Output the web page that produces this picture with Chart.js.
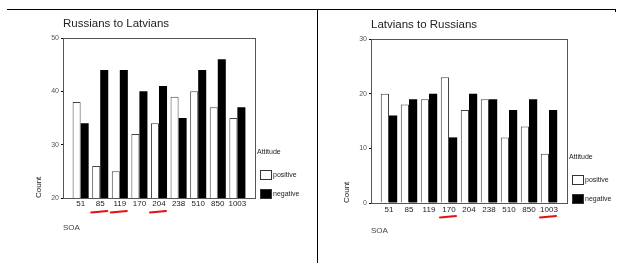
<!DOCTYPE html>
<html><head><meta charset="utf-8">
<script src="https://cdn.jsdelivr.net/npm/chart.js@4.4.1/dist/chart.umd.min.js"></script>
<style>
html,body{margin:0;padding:0;background:#fff;width:619px;height:263px;overflow:hidden;position:relative}
#c1{position:absolute;left:0;top:0}
#c2{position:absolute;left:310px;top:0}
.ln{position:absolute;background:#000}
</style></head><body>
<div class="ln" style="left:7px;top:9px;width:609px;height:1px"></div>
<div class="ln" style="left:317px;top:9px;width:1px;height:254px"></div>
<div class="ln" style="left:615px;top:9px;width:1px;height:3px"></div>
<canvas id="c1" width="310" height="263"></canvas>
<canvas id="c2" width="309" height="263"></canvas>
<script>
const categories = ['51','85','119','170','204','238','510','850','1003'];
const ruPositive = [38,26,25,32,34,39,40,37,35];
const ruNegative = [34,44,44,40,41,35,44,46,37];
const lvPositive = [20,18,19,23,17,19,12,14,9];
const lvNegative = [16,19,20,12,20,19,17,19,17];
const ruTicks = [20,30,40,50];
const lvTicks = [0,10,20,30];
const ruMarked = ['85','119','204'];
const lvMarked = ['170','1003'];
const seriesLabels = ['positive','negative'];
const legendTitle = 'Attitude';
const ruTitle = 'Russians to Latvians';
const lvTitle = 'Latvians to Russians';
const xTitle = 'SOA';
const yTitle = 'Count';

const FONT = "'Liberation Sans', Arial, sans-serif";

const decor = {
  id: 'decor',
  afterDatasetsDraw(chart) {
    const {ctx, chartArea: a} = chart;
    ctx.save();
    ctx.strokeStyle = '#555'; ctx.lineWidth = 1;
    ctx.strokeRect(Math.round(a.left) + 0.5, Math.round(a.top) + 0.5,
      Math.round(a.right - a.left), Math.round(a.bottom - a.top));
    ctx.restore();
  },
  afterDraw(chart, args, opts) {
    const {ctx, chartArea: a} = chart;
    ctx.save();
    ctx.fillStyle = '#222';
    ctx.font = '11.5px ' + FONT;
    ctx.textBaseline = 'middle';
    ctx.textAlign = 'left';
    ctx.fillText(opts.title, a.left, a.top - 14.5);
    ctx.font = '7px ' + FONT;
    ctx.fillText(legendTitle, a.right + 2, a.bottom - 46);
    chart.data.datasets.forEach((ds, i) => {
      const top = Math.round(a.bottom - 28 + i * 19);
      const left = Math.round(a.right + 5);
      ctx.fillStyle = ds.backgroundColor;
      ctx.fillRect(left, top, 11, 9);
      ctx.strokeStyle = '#333'; ctx.lineWidth = 1;
      ctx.strokeRect(left + 0.5, top + 0.5, 11, 9);
      ctx.fillStyle = '#222';
      ctx.fillText(ds.label, left + 13, top + 5);
    });
    const xs = chart.scales.x;
    ctx.strokeStyle = '#e51010'; ctx.lineWidth = 2; ctx.lineCap = 'round';
    opts.marked.forEach(lbl => {
      const px = xs.getPixelForValue(categories.indexOf(lbl));
      ctx.beginPath();
      ctx.moveTo(px - 9, a.bottom + 14.5);
      ctx.lineTo(px + 7, a.bottom + 13);
      ctx.stroke();
    });
    ctx.restore();
  }
};

function make(id, title, pos, neg, ticks, marked, pad) {
  return new Chart(document.getElementById(id), {
    type: 'bar',
    data: {
      datasets: [
        {label: seriesLabels[0], data: pos.map((v, i) => ({x: i, y: v})),
         backgroundColor: '#ffffff', borderColor: '#444', borderWidth: 1,
         categoryPercentage: 0.82, barPercentage: 1},
        {label: seriesLabels[1], data: neg.map((v, i) => ({x: i, y: v})),
         backgroundColor: '#000000', borderColor: '#000', borderWidth: 0,
         categoryPercentage: 0.82, barPercentage: 1}
      ]
    },
    options: {
      responsive: false, animation: false,
      layout: {padding: {left: pad.l, right: pad.r, top: pad.t, bottom: pad.b}},
      plugins: {legend: {display: false}, tooltip: {enabled: false}, decor: {title, marked}},
      scales: {
        x: {
          type: 'linear', min: -0.9, max: 8.9, offset: false,
          grid: {display: false, drawTicks: false, offset: false}, border: {display: false},
          afterBuildTicks: s => { s.ticks = categories.map((c, i) => ({value: i})); },
          afterFit: s => { s.height = 35; },
          ticks: {autoSkip: false, maxRotation: 0, padding: pad.tp, color: '#222',
                  font: {family: FONT, size: 8}, callback: v => categories[v]},
          title: {display: true, text: xTitle, align: 'start', color: '#444',
                  font: {family: FONT, size: 8}, padding: {top: 0, bottom: pad.sb}}
        },
        y: {
          min: ticks[0], max: ticks[ticks.length - 1],
          afterBuildTicks: s => { s.ticks = ticks.map(v => ({value: v})); },
          afterFit: s => { s.width = 30; },
          grid: {display: true, drawOnChartArea: false, drawTicks: true, tickLength: 2, color: '#000'},
          border: {display: false},
          ticks: {padding: 2, color: '#555', font: {family: FONT, size: 7}},
          title: {display: true, text: yTitle, align: 'start', color: '#222',
                  font: {family: FONT, size: 8}, padding: {top: 1, bottom: 0}}
        }
      }
    },
    plugins: [decor]
  });
}

make('c1', ruTitle, ruPositive, ruNegative, ruTicks, ruMarked,
     {l: 33, r: 55, t: 38, b: 30, tp: 1, sb: 0});
make('c2', lvTitle, lvPositive, lvNegative, lvTicks, lvMarked,
     {l: 31, r: 52, t: 39, b: 25, tp: 2, sb: 2});
</script>
</body></html>
